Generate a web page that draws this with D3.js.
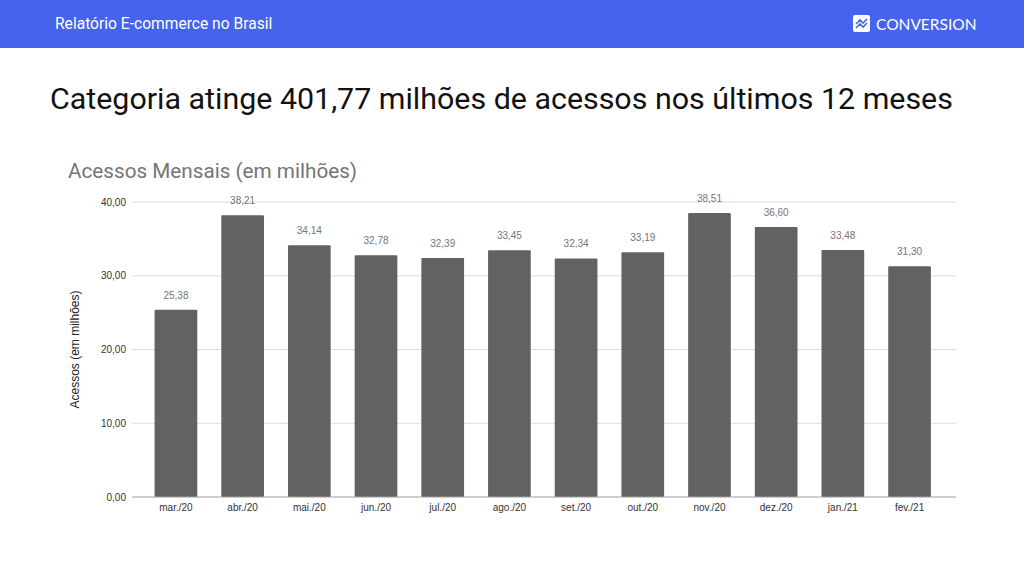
<!DOCTYPE html>
<html>
<head>
<meta charset="utf-8">
<script src="https://cdn.jsdelivr.net/npm/d3@7"></script>
<style>
  body { margin: 0; background: #fff; }
  svg { display: block; }
</style>
</head>
<body>
<div id="chart"></div>
<script>
"use strict";

const months = ["mar./20", "abr./20", "mai./20", "jun./20", "jul./20", "ago./20",
  "set./20", "out./20", "nov./20", "dez./20", "jan./21", "fev./21"];
const acessos = [25.38, 38.21, 34.14, 32.78, 32.39, 33.45, 32.34, 33.19, 38.51, 36.60, 33.48, 31.30];
const yTicks = [0, 10, 20, 30, 40];

const width = 1024, height = 576;
const fmt = v => d3.format(".2f")(v).replace(".", ",");

let svg = d3.select("#chart").append("svg")
  .attr("width", width)
  .attr("height", height);

// header band
svg.append("rect")
  .attr("width", width).attr("height", 48)
  .style("fill", "#4563ec");

svg.append("text")
  .attr("x", 55).attr("y", 29)
  .style("font-family", "Roboto, sans-serif")
  .style("font-size", "15.6px")
  .style("fill", "#fff")
  .text("Relatório E-commerce no Brasil");

// logo
let logo = svg.append("g").attr("transform", "translate(853, 15)");
logo.append("rect")
  .attr("width", 17).attr("height", 17).attr("rx", 2)
  .style("fill", "#fff");
logo.append("path")
  .attr("d", "M3,9 L7,5 L10,8 L14,4 M3,13 L7,9 L10,12 L14,8")
  .style("fill", "none").style("stroke", "#4563ec").style("stroke-width", 1.6);
svg.append("text")
  .attr("x", 876).attr("y", 30)
  .style("font-family", "Lato, sans-serif")
  .style("font-size", "15.5px")
  .style("fill", "#fff")
  .text("CONVERSION");

// title
svg.append("text")
  .attr("x", 50).attr("y", 109)
  .style("font-family", "Roboto, sans-serif")
  .style("font-size", "30.4px")
  .style("fill", "#111")
  .text("Categoria atinge 401,77 milhões de acessos nos últimos 12 meses");

svg.append("text")
  .attr("x", 68).attr("y", 178)
  .style("font-family", "Roboto, sans-serif")
  .style("font-size", "20.7px")
  .style("fill", "#757575")
  .text("Acessos Mensais (em milhões)");

// chart
let margins = { top: 202, left: 132, right: 68, bottom: 79 };

let x = d3.scaleBand()
  .domain(months)
  .range([142.6, 942.9])
  .paddingInner(0.36)
  .paddingOuter(0.18);

let y = d3.scaleLinear()
  .domain([0, 40])
  .range([height - margins.bottom, margins.top]);

let grid = svg.append("g");
grid.selectAll("line")
  .data(yTicks.filter(d => d > 0))
  .enter().append("line")
  .attr("x1", margins.left).attr("x2", width - margins.right)
  .attr("y1", d => y(d)).attr("y2", d => y(d))
  .style("stroke", "#dcdcdc").style("stroke-width", 1);

let yAxis = d3.axisLeft(y)
  .tickValues(yTicks)
  .tickSize(0)
  .tickPadding(6)
  .tickFormat(fmt);

svg.append("g")
  .attr("transform", "translate(" + margins.left + ",0)")
  .call(yAxis)
  .call(g => g.select(".domain").remove())
  .selectAll("text")
  .style("font-family", "Arial, 'Liberation Sans', sans-serif")
  .style("font-size", "10px")
  .style("fill", "#333");

svg.append("text")
  .attr("transform", "translate(79," + ((y(0) + y(40)) / 2) + ") rotate(-90)")
  .attr("text-anchor", "middle")
  .style("font-family", "Arial, 'Liberation Sans', sans-serif")
  .style("font-size", "12px")
  .style("fill", "#222")
  .text("Acessos (em milhões)");

svg.append("g").selectAll("rect")
  .data(acessos)
  .enter().append("rect")
  .attr("x", (d, i) => x(months[i]))
  .attr("y", d => y(d))
  .attr("width", x.bandwidth())
  .attr("height", d => y(0) - y(d))
  .attr("rx", 1)
  .style("fill", "#626262");

svg.append("g").selectAll("text")
  .data(acessos)
  .enter().append("text")
  .attr("x", (d, i) => x(months[i]) + x.bandwidth() / 2)
  .attr("y", d => y(d) - 11)
  .attr("text-anchor", "middle")
  .style("font-family", "Arial, 'Liberation Sans', sans-serif")
  .style("font-size", "10px")
  .style("fill", "#757575")
  .text(fmt);

svg.append("line")
  .attr("x1", margins.left).attr("x2", width - margins.right)
  .attr("y1", y(0)).attr("y2", y(0))
  .style("stroke", "#9e9e9e").style("stroke-width", 1);

let xAxis = d3.axisBottom(x).tickSize(0).tickPadding(7);
svg.append("g")
  .attr("transform", "translate(0," + y(0) + ")")
  .call(xAxis)
  .call(g => g.select(".domain").remove())
  .selectAll("text")
  .style("font-family", "Arial, 'Liberation Sans', sans-serif")
  .style("font-size", "10px")
  .style("fill", "#333");
</script>
</body>
</html>
